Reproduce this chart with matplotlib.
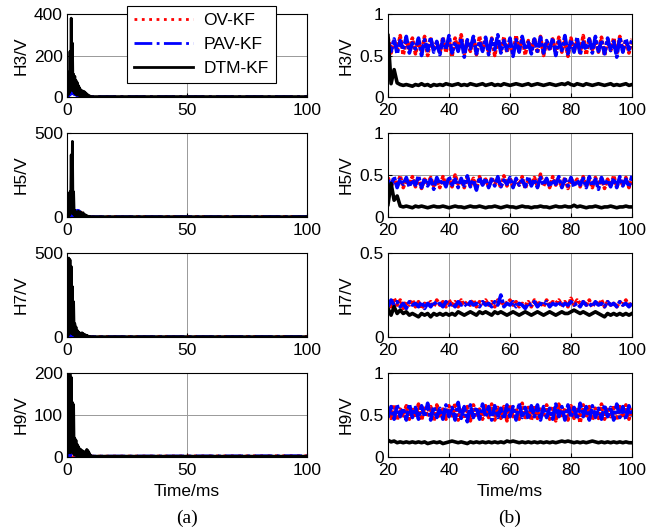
import numpy as np
import matplotlib.pyplot as plt

plt.rcParams['font.family'] = ['Liberation Sans', 'DejaVu Sans']
plt.rcParams['font.size'] = 10

# ---- (a) full window 0-100 ms: transient then ~0 ----
t_a = [0, 0.25, 0.5, 0.75, 1, 1.25, 1.5, 1.75, 2, 2.25, 2.5, 2.75, 3, 3.25, 3.5, 3.75,
       4, 4.25, 4.5, 4.75, 5, 5.25, 5.5, 5.75, 6, 6.25, 6.5, 6.75, 7, 7.25, 7.5, 7.75,
       8, 8.25, 8.5, 8.75, 9, 9.25, 9.5, 9.75, 10, 100]

a_h3_ov = [0, 40, 5, 60, 10, 85, 15, 100, 20, 110, 20, 95, 15, 80, 12, 65, 10, 50, 8, 40,
           6, 30, 5, 22, 4, 15, 3, 10, 3, 7, 2, 5, 2, 4, 2, 3, 2, 3, 2, 2, 2, 2]
a_h3_pav = [0, 35, 5, 55, 8, 75, 12, 90, 18, 100, 15, 85, 12, 70, 10, 55, 8, 45, 6, 35,
            5, 25, 4, 18, 3, 12, 3, 8, 2, 6, 2, 4, 2, 3, 2, 3, 2, 2, 2, 2, 2, 2]
a_h3_dtm = [0, 90, 10, 120, 20, 220, 30, 380, 40, 260, 30, 110, 20, 100, 15, 80, 10, 70,
            10, 55, 8, 45, 5, 35, 5, 30, 3, 28, 3, 25, 2, 20, 2, 15, 2, 10, 2, 6, 2, 4, 2, 2]

a_h5_ov = [0, 30, 5, 60, 10, 40, 5, 30, 8, 20, 5, 15, 5, 20, 8, 30, 10, 45, 8, 55,
           6, 40, 5, 30, 4, 25, 3, 20, 3, 12, 2, 8, 2, 5, 2, 4, 2, 3, 2, 3, 2, 3]
a_h5_pav = [0, 25, 5, 55, 8, 35, 5, 25, 6, 18, 5, 12, 5, 18, 6, 28, 8, 40, 6, 50,
            5, 35, 4, 25, 3, 20, 3, 15, 2, 10, 2, 6, 2, 4, 2, 3, 2, 3, 2, 3, 2, 3]
a_h5_dtm = [0, 80, 5, 140, 10, 150, 20, 370, 30, 450, 20, 150, 10, 40, 5, 30, 5, 25,
            3, 35, 3, 25, 2, 30, 2, 20, 2, 25, 2, 15, 2, 12, 2, 8, 2, 5, 2, 4, 2, 3, 2, 2]

a_h7_ov = [0, 20, 5, 25, 5, 20, 5, 15, 5, 30, 5, 40, 5, 35, 4, 25, 3, 20, 3, 15,
           3, 12, 2, 10, 2, 8, 2, 6, 2, 5, 2, 4, 2, 3, 2, 3, 2, 3, 2, 3, 2, 3]
a_h7_pav = [0, 15, 5, 20, 5, 18, 5, 12, 5, 25, 5, 35, 5, 30, 4, 20, 3, 15, 3, 12,
            3, 10, 2, 8, 2, 6, 2, 5, 2, 4, 2, 3, 2, 3, 2, 3, 2, 3, 2, 3, 2, 3]
a_h7_dtm = [0, 300, 10, 470, 20, 460, 30, 420, 20, 300, 15, 210, 10, 80, 8, 60, 5, 40,
            5, 30, 4, 25, 3, 20, 3, 25, 3, 20, 2, 15, 2, 12, 2, 10, 2, 6, 2, 4, 2, 3, 2, 2]

a_h9_ov = [0, 15, 3, 10, 3, 8, 3, 6, 3, 5, 2, 5, 2, 4, 2, 4, 2, 3, 2, 3,
           2, 3, 2, 3, 2, 3, 2, 3, 2, 3, 2, 3, 2, 3, 2, 3, 2, 3, 2, 3, 2, 3]
a_h9_pav = [0, 12, 3, 8, 3, 6, 3, 5, 3, 4, 2, 4, 2, 3, 2, 3, 2, 3, 2, 3,
            2, 3, 2, 3, 2, 3, 2, 3, 2, 3, 2, 3, 2, 3, 2, 3, 2, 3, 2, 3, 2, 3]
a_h9_dtm = [0, 210, 10, 210, 10, 200, 10, 190, 15, 130, 10, 125, 5, 45, 5, 40, 3, 30,
            3, 25, 2, 20, 2, 18, 2, 15, 2, 14, 2, 12, 2, 10, 2, 18, 2, 15, 2, 10, 2, 5, 2, 2]

# ---- (b) zoom 20-100 ms, 1 ms samples ----
b_h3_ov = [0.72, 0.53, 0.69, 0.56, 0.74, 0.51, 0.67, 0.58, 0.71, 0.52,
           0.68, 0.55, 0.73, 0.50, 0.70, 0.57, 0.66, 0.53, 0.72, 0.54,
           0.69, 0.49, 0.71, 0.56, 0.75, 0.52, 0.67, 0.55, 0.70, 0.51,
           0.73, 0.57, 0.68, 0.53, 0.71, 0.50, 0.69, 0.56, 0.72, 0.54,
           0.66, 0.52, 0.74, 0.55, 0.70, 0.51, 0.68, 0.57, 0.71, 0.53,
           0.73, 0.50, 0.67, 0.56, 0.70, 0.52, 0.72, 0.54, 0.69, 0.49,
           0.71, 0.55, 0.68, 0.53, 0.74, 0.51, 0.70, 0.57, 0.67, 0.54,
           0.72, 0.50, 0.69, 0.56, 0.71, 0.52, 0.73, 0.55, 0.68, 0.53, 0.70]
b_h3_pav = [0.66, 0.55, 0.70, 0.52, 0.68, 0.57, 0.73, 0.53, 0.65, 0.58,
            0.71, 0.50, 0.69, 0.56, 0.72, 0.54, 0.67, 0.51, 0.70, 0.57,
            0.74, 0.53, 0.66, 0.55, 0.71, 0.48, 0.69, 0.58, 0.73, 0.52,
            0.67, 0.55, 0.72, 0.51, 0.70, 0.57, 0.75, 0.53, 0.68, 0.56,
            0.71, 0.49, 0.69, 0.54, 0.73, 0.57, 0.66, 0.52, 0.70, 0.55,
            0.72, 0.53, 0.68, 0.58, 0.71, 0.50, 0.67, 0.56, 0.74, 0.52,
            0.69, 0.54, 0.72, 0.51, 0.66, 0.57, 0.70, 0.53, 0.73, 0.55,
            0.68, 0.52, 0.71, 0.56, 0.67, 0.48, 0.72, 0.54, 0.70, 0.57, 0.69]
b_h3_dtm = [0.74, 0.16, 0.33, 0.17, 0.15, 0.14, 0.15, 0.14, 0.13, 0.15,
            0.14, 0.16, 0.14, 0.15, 0.13, 0.15, 0.14, 0.15, 0.14, 0.16,
            0.15, 0.14, 0.15, 0.16, 0.14, 0.15, 0.14, 0.16, 0.15, 0.14,
            0.15, 0.16, 0.14, 0.15, 0.16, 0.14, 0.15, 0.14, 0.16, 0.15,
            0.14, 0.15, 0.16, 0.15, 0.14, 0.15, 0.16, 0.14, 0.15, 0.16,
            0.15, 0.14, 0.15, 0.16, 0.15, 0.14, 0.15, 0.16, 0.15, 0.17,
            0.15, 0.14, 0.16, 0.15, 0.14, 0.16, 0.15, 0.14, 0.15, 0.16,
            0.15, 0.14, 0.15, 0.16, 0.14, 0.15, 0.14, 0.15, 0.16, 0.14, 0.15]

b_h5_ov = [0.47, 0.36, 0.45, 0.38, 0.49, 0.35, 0.44, 0.39, 0.48, 0.36,
           0.46, 0.34, 0.45, 0.40, 0.47, 0.37, 0.44, 0.35, 0.48, 0.38,
           0.45, 0.36, 0.50, 0.39, 0.44, 0.35, 0.47, 0.37, 0.46, 0.34,
           0.48, 0.38, 0.45, 0.36, 0.47, 0.39, 0.44, 0.35, 0.49, 0.37,
           0.46, 0.36, 0.45, 0.38, 0.48, 0.34, 0.44, 0.39, 0.47, 0.36,
           0.51, 0.37, 0.45, 0.35, 0.48, 0.38, 0.44, 0.36, 0.47, 0.34,
           0.46, 0.39, 0.45, 0.36, 0.48, 0.37, 0.44, 0.35, 0.47, 0.38,
           0.46, 0.34, 0.45, 0.37, 0.49, 0.36, 0.44, 0.38, 0.47, 0.35, 0.46]
b_h5_pav = [0.44, 0.37, 0.48, 0.35, 0.45, 0.39, 0.47, 0.36, 0.44, 0.38,
            0.49, 0.35, 0.46, 0.37, 0.45, 0.33, 0.47, 0.39, 0.44, 0.36,
            0.48, 0.38, 0.45, 0.35, 0.46, 0.37, 0.49, 0.36, 0.44, 0.32,
            0.47, 0.38, 0.46, 0.35, 0.45, 0.37, 0.48, 0.36, 0.44, 0.39,
            0.47, 0.35, 0.46, 0.38, 0.44, 0.36, 0.48, 0.37, 0.45, 0.35,
            0.47, 0.38, 0.46, 0.36, 0.44, 0.39, 0.48, 0.35, 0.45, 0.37,
            0.47, 0.36, 0.44, 0.38, 0.46, 0.35, 0.48, 0.37, 0.45, 0.33,
            0.47, 0.38, 0.44, 0.36, 0.46, 0.35, 0.48, 0.37, 0.45, 0.36, 0.49]
b_h5_dtm = [0.15, 0.40, 0.20, 0.25, 0.13, 0.12, 0.13, 0.12, 0.11, 0.13,
            0.12, 0.13, 0.12, 0.11, 0.12, 0.13, 0.12, 0.12, 0.13, 0.12,
            0.11, 0.12, 0.13, 0.12, 0.12, 0.11, 0.12, 0.13, 0.12, 0.12,
            0.13, 0.12, 0.11, 0.12, 0.12, 0.13, 0.12, 0.11, 0.12, 0.13,
            0.12, 0.12, 0.11, 0.12, 0.13, 0.12, 0.12, 0.11, 0.12, 0.12,
            0.13, 0.12, 0.12, 0.11, 0.12, 0.13, 0.12, 0.12, 0.13, 0.12,
            0.12, 0.14, 0.12, 0.13, 0.12, 0.11, 0.12, 0.12, 0.13, 0.12,
            0.11, 0.12, 0.12, 0.13, 0.12, 0.11, 0.12, 0.12, 0.13, 0.12, 0.12]

b_h7_ov = [0.21, 0.18, 0.23, 0.19, 0.22, 0.17, 0.21, 0.19, 0.22, 0.18,
           0.21, 0.17, 0.20, 0.19, 0.21, 0.18, 0.22, 0.19, 0.21, 0.18,
           0.22, 0.19, 0.21, 0.18, 0.22, 0.19, 0.21, 0.19, 0.22, 0.18,
           0.21, 0.20, 0.22, 0.19, 0.21, 0.18, 0.22, 0.19, 0.21, 0.20,
           0.22, 0.19, 0.21, 0.18, 0.20, 0.19, 0.21, 0.18, 0.22, 0.19,
           0.21, 0.18, 0.22, 0.19, 0.21, 0.20, 0.22, 0.19, 0.21, 0.18,
           0.23, 0.19, 0.22, 0.20, 0.21, 0.19, 0.22, 0.18, 0.21, 0.19,
           0.22, 0.18, 0.21, 0.19, 0.20, 0.18, 0.21, 0.19, 0.22, 0.18, 0.21]
b_h7_pav = [0.18, 0.22, 0.19, 0.21, 0.18, 0.20, 0.17, 0.21, 0.19, 0.20,
            0.18, 0.21, 0.17, 0.20, 0.18, 0.21, 0.19, 0.20, 0.18, 0.21,
            0.19, 0.20, 0.18, 0.21, 0.19, 0.20, 0.18, 0.21, 0.19, 0.20,
            0.18, 0.21, 0.19, 0.20, 0.18, 0.21, 0.19, 0.25, 0.18, 0.20,
            0.19, 0.21, 0.18, 0.20, 0.19, 0.17, 0.20, 0.19, 0.21, 0.18,
            0.20, 0.19, 0.21, 0.18, 0.20, 0.19, 0.21, 0.18, 0.20, 0.19,
            0.21, 0.19, 0.20, 0.18, 0.21, 0.19, 0.20, 0.18, 0.21, 0.19,
            0.20, 0.18, 0.21, 0.19, 0.20, 0.18, 0.21, 0.19, 0.20, 0.18, 0.20]
b_h7_dtm = [0.17, 0.13, 0.18, 0.14, 0.16, 0.14, 0.15, 0.13, 0.14, 0.13,
            0.12, 0.14, 0.13, 0.14, 0.12, 0.14, 0.13, 0.14, 0.13, 0.14,
            0.13, 0.14, 0.13, 0.15, 0.14, 0.13, 0.14, 0.15, 0.14, 0.13,
            0.15, 0.14, 0.15, 0.14, 0.13, 0.15, 0.14, 0.15, 0.14, 0.13,
            0.14, 0.15, 0.14, 0.13, 0.14, 0.15, 0.14, 0.13, 0.14, 0.15,
            0.14, 0.13, 0.14, 0.15, 0.14, 0.13, 0.14, 0.15, 0.14, 0.14,
            0.15, 0.16, 0.15, 0.14, 0.15, 0.14, 0.13, 0.14, 0.15, 0.14,
            0.13, 0.12, 0.14, 0.13, 0.14, 0.13, 0.14, 0.13, 0.14, 0.13, 0.14]

b_h9_ov = [0.58, 0.46, 0.62, 0.44, 0.57, 0.49, 0.61, 0.45, 0.59, 0.47,
           0.63, 0.44, 0.58, 0.48, 0.60, 0.43, 0.62, 0.47, 0.57, 0.45,
           0.61, 0.49, 0.64, 0.44, 0.58, 0.46, 0.60, 0.43, 0.62, 0.48,
           0.57, 0.45, 0.61, 0.47, 0.63, 0.44, 0.59, 0.46, 0.60, 0.43,
           0.62, 0.48, 0.58, 0.45, 0.64, 0.47, 0.59, 0.44, 0.61, 0.46,
           0.57, 0.48, 0.62, 0.45, 0.60, 0.43, 0.63, 0.47, 0.58, 0.44,
           0.61, 0.46, 0.59, 0.41, 0.62, 0.47, 0.60, 0.44, 0.58, 0.46,
           0.63, 0.45, 0.59, 0.48, 0.61, 0.44, 0.60, 0.47, 0.62, 0.45, 0.58]
b_h9_pav = [0.47, 0.60, 0.45, 0.62, 0.48, 0.58, 0.44, 0.63, 0.47, 0.59,
            0.45, 0.61, 0.48, 0.64, 0.44, 0.60, 0.47, 0.58, 0.45, 0.62,
            0.48, 0.59, 0.44, 0.65, 0.46, 0.60, 0.42, 0.62, 0.47, 0.59,
            0.45, 0.63, 0.48, 0.60, 0.44, 0.61, 0.47, 0.58, 0.45, 0.62,
            0.48, 0.60, 0.44, 0.64, 0.47, 0.59, 0.45, 0.61, 0.48, 0.62,
            0.44, 0.60, 0.47, 0.58, 0.45, 0.63, 0.48, 0.60, 0.44, 0.62,
            0.47, 0.59, 0.45, 0.64, 0.48, 0.60, 0.44, 0.61, 0.47, 0.58,
            0.45, 0.62, 0.48, 0.59, 0.44, 0.63, 0.47, 0.60, 0.45, 0.61, 0.48]
b_h9_dtm = [0.20, 0.18, 0.19, 0.17, 0.18, 0.17, 0.18, 0.17, 0.18, 0.17,
            0.18, 0.17, 0.18, 0.16, 0.17, 0.18, 0.17, 0.18, 0.16, 0.17,
            0.18, 0.19, 0.18, 0.17, 0.18, 0.17, 0.16, 0.18, 0.17, 0.18,
            0.17, 0.18, 0.17, 0.18, 0.17, 0.18, 0.17, 0.18, 0.17, 0.19,
            0.18, 0.19, 0.18, 0.17, 0.18, 0.17, 0.18, 0.17, 0.18, 0.17,
            0.18, 0.17, 0.18, 0.17, 0.18, 0.17, 0.18, 0.19, 0.18, 0.19,
            0.18, 0.17, 0.18, 0.17, 0.18, 0.17, 0.18, 0.19, 0.18, 0.17,
            0.18, 0.17, 0.18, 0.17, 0.18, 0.17, 0.18, 0.17, 0.18, 0.17, 0.17]

t_b = np.arange(20, 101, 1)

ylabels = ['H3/V', 'H5/V', 'H7/V', 'H9/V']
a_series = [(a_h3_ov, a_h3_pav, a_h3_dtm), (a_h5_ov, a_h5_pav, a_h5_dtm),
            (a_h7_ov, a_h7_pav, a_h7_dtm), (a_h9_ov, a_h9_pav, a_h9_dtm)]
b_series = [(b_h3_ov, b_h3_pav, b_h3_dtm), (b_h5_ov, b_h5_pav, b_h5_dtm),
            (b_h7_ov, b_h7_pav, b_h7_dtm), (b_h9_ov, b_h9_pav, b_h9_dtm)]
a_yticks = [[0, 200, 400], [0, 500], [0, 500], [0, 100, 200]]
b_yticks = [[0, 0.5, 1], [0, 0.5, 1], [0, 0.5], [0, 0.5, 1]]

W, H = 647, 531
fig = plt.figure(figsize=(W / 100, H / 100), dpi=100)
rows = [(14, 97), (133, 217), (253, 337), (373, 457)]


def setup(ax, xticks, yticks, xlim):
    ax.set_xlim(*xlim)
    ax.set_ylim(yticks[0], yticks[-1])
    ax.set_xticks(xticks)
    ax.set_yticks(yticks)
    ax.set_yticklabels(['%g' % v for v in yticks])
    ax.tick_params(direction='in', length=3, labelsize=12.5)
    ax.tick_params(axis='x', pad=4)
    ax.tick_params(axis='y', pad=3)
    ax.grid(True, color='#999999', lw=0.7)
    ax.set_axisbelow(True)


for i, (yt, yb) in enumerate(rows):
    bottom = 1 - yb / H
    h = (yb - yt) / H
    ax = fig.add_axes([67 / W, bottom, 240 / W, h])
    ov, pav, dtm = a_series[i]
    l1, = ax.plot(t_a, ov, 'r:', lw=2, label='OV-KF')
    l2, = ax.plot(t_a, pav, 'b-.', lw=2, label='PAV-KF')
    l3, = ax.plot(t_a, dtm, 'k-', lw=2, label='DTM-KF')
    setup(ax, [0, 50, 100], a_yticks[i], (0, 100))
    ax.set_ylabel(ylabels[i], fontsize=12.5, labelpad=4)
    if i == 0:
        handles = [l1, l2, l3]

    ax2 = fig.add_axes([388 / W, bottom, 244 / W, h])
    ov, pav, dtm = b_series[i]
    ax2.plot(t_b, ov, color='red', ls=(0, (1, 0.4)), lw=2.6)
    ax2.plot(t_b, pav, color='blue', ls=(0, (4, 0.6, 1, 0.6)), lw=2.6)
    ax2.plot(t_b, dtm, 'k-', lw=2.6)
    setup(ax2, [20, 40, 60, 80, 100], b_yticks[i], (20, 100))
    ax2.set_ylabel(ylabels[i], fontsize=12.5, labelpad=4)
    if i == 3:
        ax.set_xlabel('Time/ms', fontsize=12.5, labelpad=5)
        ax2.set_xlabel('Time/ms', fontsize=12.5, labelpad=5)

leg = fig.legend(handles, ['OV-KF', 'PAV-KF', 'DTM-KF'], loc='upper left',
                 bbox_to_anchor=(127 / W, 1 - 6 / H), borderaxespad=0, fontsize=12.5,
                 handlelength=3.4, fancybox=False, framealpha=1, edgecolor='black',
                 borderpad=0.4, labelspacing=0.5, handletextpad=0.6)
leg.get_frame().set_linewidth(0.8)

fig.text(187 / W, 1 - 518 / H, '(a)', ha='center', va='center', fontsize=14,
         family='Liberation Serif')
fig.text(510 / W, 1 - 518 / H, '(b)', ha='center', va='center', fontsize=14,
         family='Liberation Serif')

fig.savefig('out.png', dpi=100)
